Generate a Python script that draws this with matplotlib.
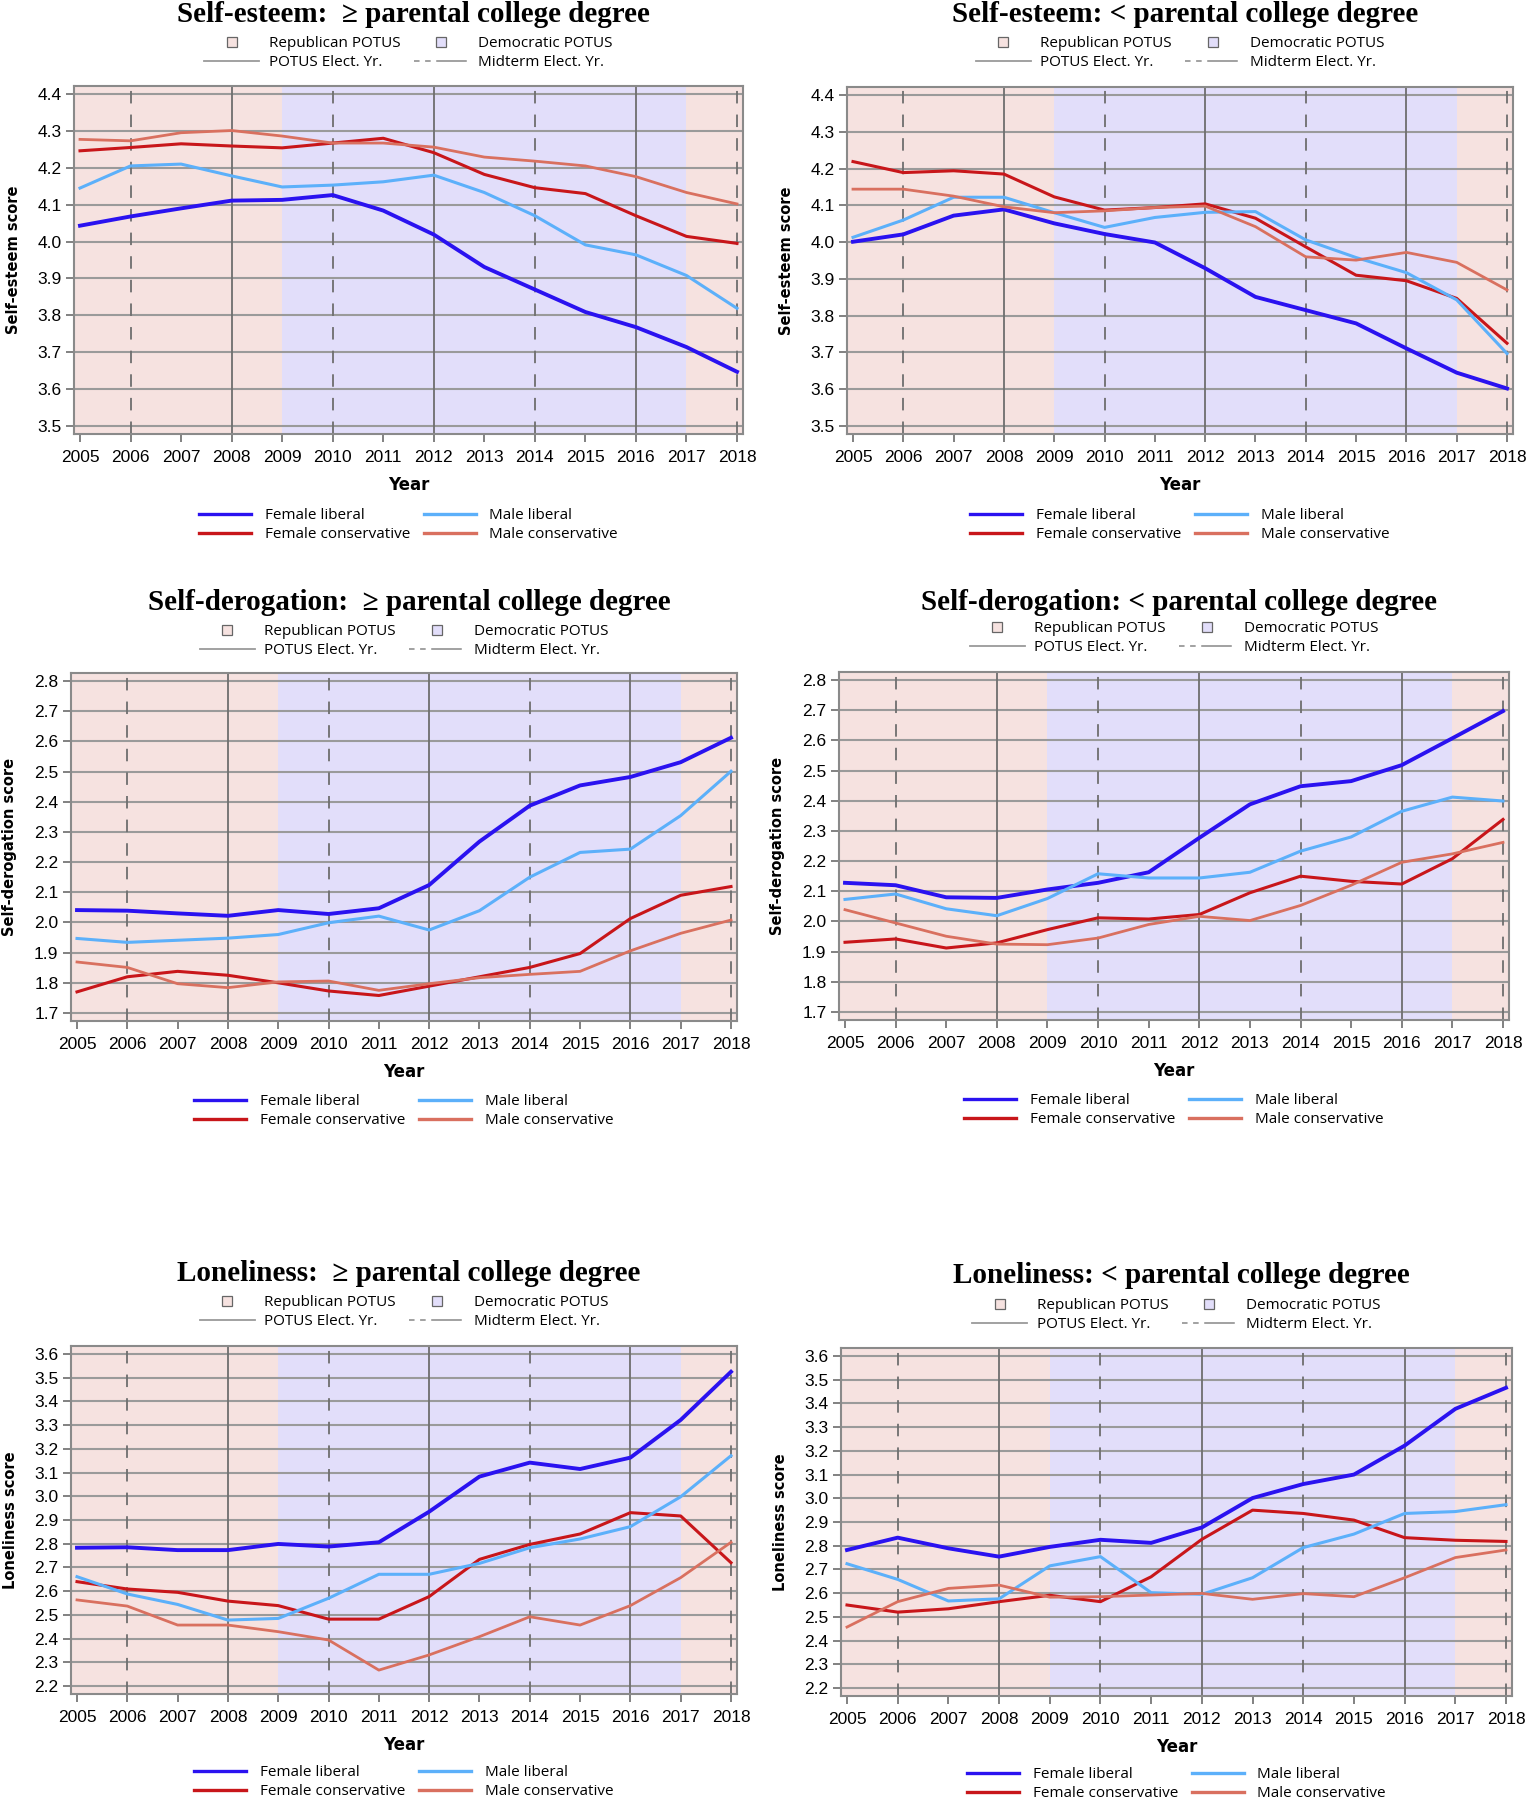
import matplotlib
matplotlib.use("Agg")
import matplotlib.pyplot as plt
from matplotlib.lines import Line2D

# ---------------------------------------------------------------- data
years = [2005, 2006, 2007, 2008, 2009, 2010, 2011, 2012, 2013, 2014, 2015, 2016, 2017, 2018]
potus_years = [2008, 2012, 2016]
midterm_years = [2006, 2010, 2014, 2018]
# presidency periods (start, end, party)
periods = [(2005, 2009, "R"), (2009, 2017, "D"), (2017, 2018, "R")]

series_names = ["Female liberal", "Female conservative", "Male liberal", "Male conservative"]

# self-esteem, >= parental college degree
se_hi_fl = [4.043, 4.068, 4.090, 4.111, 4.113, 4.126, 4.084, 4.019, 3.931, 3.870, 3.809, 3.768, 3.714, 3.647]
se_hi_ml = [4.145, 4.205, 4.210, 4.178, 4.148, 4.153, 4.162, 4.180, 4.133, 4.070, 3.991, 3.964, 3.908, 3.819]
se_hi_fc = [4.246, 4.255, 4.265, 4.259, 4.254, 4.267, 4.280, 4.241, 4.182, 4.146, 4.130, 4.070, 4.014, 3.995]
se_hi_mc = [4.277, 4.273, 4.295, 4.301, 4.286, 4.267, 4.267, 4.256, 4.229, 4.218, 4.205, 4.176, 4.133, 4.102]

# self-esteem, < parental college degree
se_lo_fl = [4.001, 4.021, 4.072, 4.089, 4.051, 4.022, 3.999, 3.929, 3.851, 3.815, 3.779, 3.711, 3.645, 3.602]
se_lo_ml = [4.013, 4.060, 4.122, 4.122, 4.080, 4.040, 4.067, 4.081, 4.083, 4.006, 3.958, 3.917, 3.843, 3.697]
se_lo_fc = [4.219, 4.189, 4.194, 4.185, 4.123, 4.087, 4.094, 4.104, 4.065, 3.987, 3.910, 3.895, 3.847, 3.725]
se_lo_mc = [4.144, 4.144, 4.125, 4.096, 4.080, 4.085, 4.094, 4.098, 4.042, 3.960, 3.951, 3.972, 3.945, 3.870]

# self-derogation, >= parental college degree
sd_hi_fl = [2.041, 2.039, 2.030, 2.022, 2.041, 2.028, 2.047, 2.124, 2.268, 2.387, 2.454, 2.482, 2.531, 2.612]
sd_hi_ml = [1.947, 1.934, 1.941, 1.948, 1.960, 1.999, 2.021, 1.975, 2.039, 2.150, 2.232, 2.243, 2.354, 2.501]
sd_hi_fc = [1.770, 1.820, 1.838, 1.825, 1.800, 1.773, 1.758, 1.789, 1.820, 1.851, 1.897, 2.013, 2.090, 2.119]
sd_hi_mc = [1.869, 1.851, 1.797, 1.784, 1.803, 1.806, 1.775, 1.797, 1.817, 1.828, 1.838, 1.906, 1.964, 2.008]

# self-derogation, < parental college degree
sd_lo_fl = [2.128, 2.120, 2.080, 2.078, 2.106, 2.128, 2.163, 2.277, 2.388, 2.448, 2.465, 2.518, 2.607, 2.697]
sd_lo_ml = [2.073, 2.091, 2.042, 2.019, 2.076, 2.158, 2.144, 2.144, 2.163, 2.233, 2.280, 2.365, 2.412, 2.399]
sd_lo_fc = [1.931, 1.942, 1.912, 1.929, 1.973, 2.012, 2.008, 2.023, 2.095, 2.150, 2.133, 2.124, 2.208, 2.338]
sd_lo_mc = [2.039, 1.995, 1.951, 1.925, 1.923, 1.945, 1.990, 2.017, 2.003, 2.053, 2.120, 2.196, 2.224, 2.262]

# loneliness, >= parental college degree
lo_hi_fl = [2.783, 2.785, 2.773, 2.773, 2.799, 2.788, 2.806, 2.935, 3.083, 3.142, 3.115, 3.163, 3.322, 3.525]
lo_hi_ml = [2.661, 2.588, 2.544, 2.478, 2.485, 2.570, 2.671, 2.671, 2.717, 2.783, 2.820, 2.872, 2.998, 3.171]
lo_hi_fc = [2.640, 2.609, 2.595, 2.558, 2.539, 2.482, 2.482, 2.577, 2.734, 2.797, 2.841, 2.931, 2.917, 2.720]
lo_hi_mc = [2.563, 2.537, 2.457, 2.457, 2.429, 2.394, 2.267, 2.331, 2.408, 2.492, 2.457, 2.539, 2.657, 2.806]

# loneliness, < parental college degree
lo_lo_fl = [2.782, 2.834, 2.789, 2.754, 2.795, 2.825, 2.812, 2.877, 3.001, 3.060, 3.100, 3.222, 3.377, 3.466]
lo_lo_ml = [2.724, 2.658, 2.567, 2.576, 2.715, 2.754, 2.602, 2.595, 2.665, 2.792, 2.849, 2.936, 2.944, 2.973]
lo_lo_fc = [2.550, 2.520, 2.534, 2.564, 2.591, 2.564, 2.669, 2.827, 2.950, 2.936, 2.908, 2.834, 2.823, 2.818]
lo_lo_mc = [2.457, 2.564, 2.620, 2.634, 2.583, 2.585, 2.592, 2.599, 2.574, 2.598, 2.585, 2.665, 2.750, 2.782]

se_ticks = [3.5, 3.6, 3.7, 3.8, 3.9, 4.0, 4.1, 4.2, 4.3, 4.4]
sd_ticks = [1.7, 1.8, 1.9, 2.0, 2.1, 2.2, 2.3, 2.4, 2.5, 2.6, 2.7, 2.8]
lo_ticks = [2.2, 2.3, 2.4, 2.5, 2.6, 2.7, 2.8, 2.9, 3.0, 3.1, 3.2, 3.3, 3.4, 3.5, 3.6]

# ---------------------------------------------------------------- style
W, H = 1527, 1801
pink = "#f6e2e0"
lav = "#e2defa"
colors = {"Female liberal": "#2a12f0", "Female conservative": "#c8161a",
          "Male liberal": "#5cb0fa", "Male conservative": "#d9705f"}
widths = {"Female liberal": 2.8, "Female conservative": 2.2,
          "Male liberal": 2.2, "Male conservative": 2.0}
grid_c = "#9a9a9a"
vline_c = "#6e6e6e"
mid_dash = (0, (9, 8))

plt.rcParams["lines.scale_dashes"] = False
TICKFONT = ["Liberation Sans Narrow", "Liberation Sans", "DejaVu Sans"]
LEGFONT = ["Open Sans", "DejaVu Sans"]

fig = plt.figure(figsize=(W / 100, H / 100), dpi=100)


def draw_panel(x05, x18, ytop_px, ybot_px, ticks, data, title, ylabel,
               title_y, leg_y, bleg_y):
    xpad = 0.12
    ppy = (x18 - x05) / 13.0
    yr = ticks[-1] - ticks[0]
    ypad = 0.025 * yr
    ppu = (ybot_px - ytop_px) / yr
    left = x05 - xpad * ppy
    right = x18 + xpad * ppy
    top = ytop_px - ypad * ppu
    bot = ybot_px + ypad * ppu
    ax = fig.add_axes([left / W, 1 - bot / H, (right - left) / W, (bot - top) / H])
    ax.set_xlim(years[0] - xpad, years[-1] + xpad)
    ax.set_ylim(ticks[0] - ypad, ticks[-1] + ypad)

    # presidency shading
    for i, (a, b, party) in enumerate(periods):
        lo = years[0] - xpad if i == 0 else a
        hi = years[-1] + xpad if i == len(periods) - 1 else b
        ax.axvspan(lo, hi, color=pink if party == "R" else lav, lw=0, zorder=0)

    for t in ticks:
        ax.axhline(t, color=grid_c, lw=1.5, zorder=1)
    for yv in potus_years:
        ax.axvline(yv, color=vline_c, lw=1.3, zorder=1)
    for yv in midterm_years:
        ax.axvline(yv, color=vline_c, lw=1.3, ls=mid_dash, zorder=1)

    for name in series_names:
        ax.plot(years, data[name], color=colors[name], lw=widths[name], zorder=3,
                solid_joinstyle="round")

    ax.set_xticks(years)
    ax.set_yticks(ticks)
    ax.set_yticklabels(["%.1f" % t for t in ticks])
    ax.tick_params(colors="#777777", labelcolor="black", length=6, width=1.3,
                   labelsize=12.5)
    ax.tick_params(axis="x", pad=5)
    ax.tick_params(axis="y", pad=3)
    for lab in ax.get_xticklabels() + ax.get_yticklabels():
        lab.set_family(TICKFONT)
    for sp in ax.spines.values():
        sp.set_color("#8a8a8a")
        sp.set_linewidth(1.5)

    ax.set_xlabel("Year", fontsize=12, fontweight="bold", family="DejaVu Sans", labelpad=8)
    ax.set_ylabel(ylabel, fontsize=10.5, fontweight="bold", family="DejaVu Sans", labelpad=12)

    cx = (x05 + x18) / 2.0
    fig.text((cx + 5) / W, 1 - title_y / H, title, ha="center", va="center",
             fontsize=21, fontweight="bold", family=["Liberation Serif", "DejaVu Serif"])

    top_handles = [
        Line2D([], [], ls="none", marker="s", ms=7, mfc=pink, mec="#666666", mew=0.9),
        Line2D([], [], color="#9a9a9a", lw=1.3),
        Line2D([], [], ls="none", marker="s", ms=7, mfc=lav, mec="#666666", mew=0.9),
        Line2D([], [], color="#9a9a9a", lw=1.3, ls=(0, (4, 4, 4, 4, 22, 4))),
    ]
    top_labels = ["Republican POTUS", "POTUS Elect. Yr.", "Democratic POTUS", "Midterm Elect. Yr."]
    fig.legend(top_handles, top_labels, loc="center", bbox_to_anchor=(cx / W, 1 - leg_y / H),
               ncol=2, frameon=False, prop={"family": LEGFONT, "size": 11},
               handlelength=3.6, handletextpad=0.6, columnspacing=0.9,
               labelspacing=0.25, borderpad=0, borderaxespad=0)

    bot_handles = [Line2D([], [], color=colors[n], lw=2.4) for n in series_names]
    fig.legend(bot_handles, series_names, loc="center", bbox_to_anchor=(cx / W, 1 - bleg_y / H),
               ncol=2, frameon=False, prop={"family": LEGFONT, "size": 11},
               handlelength=3.4, handletextpad=0.9, columnspacing=0.9,
               labelspacing=0.25, borderpad=0, borderaxespad=0)
    return ax


def pack(fl, fc, ml, mc):
    return {"Female liberal": fl, "Female conservative": fc,
            "Male liberal": ml, "Male conservative": mc}


draw_panel(80, 737, 94, 426, se_ticks, pack(se_hi_fl, se_hi_fc, se_hi_ml, se_hi_mc),
           "Self-esteem:  \u2265 parental college degree", "Self-esteem score", 15, 53, 525)
draw_panel(853, 1507, 95, 426, se_ticks, pack(se_lo_fl, se_lo_fc, se_lo_ml, se_lo_mc),
           "Self-esteem: < parental college degree", "Self-esteem score", 15, 53, 525)
draw_panel(77, 731, 681, 1013, sd_ticks, pack(sd_hi_fl, sd_hi_fc, sd_hi_ml, sd_hi_mc),
           "Self-derogation:  \u2265 parental college degree", "Self-derogation score", 603, 641, 1111)
draw_panel(845, 1503, 680, 1012, sd_ticks, pack(sd_lo_fl, sd_lo_fc, sd_lo_ml, sd_lo_mc),
           "Self-derogation: < parental college degree", "Self-derogation score", 603, 638, 1110)
draw_panel(77, 731, 1354, 1686, lo_ticks, pack(lo_hi_fl, lo_hi_fc, lo_hi_ml, lo_hi_mc),
           "Loneliness:  \u2265 parental college degree", "Loneliness score", 1273, 1312, 1782)
draw_panel(847, 1506, 1356, 1688, lo_ticks, pack(lo_lo_fl, lo_lo_fc, lo_lo_ml, lo_lo_mc),
           "Loneliness: < parental college degree", "Loneliness score", 1275, 1315, 1784)

fig.savefig("out.png", dpi=100, facecolor="white")
